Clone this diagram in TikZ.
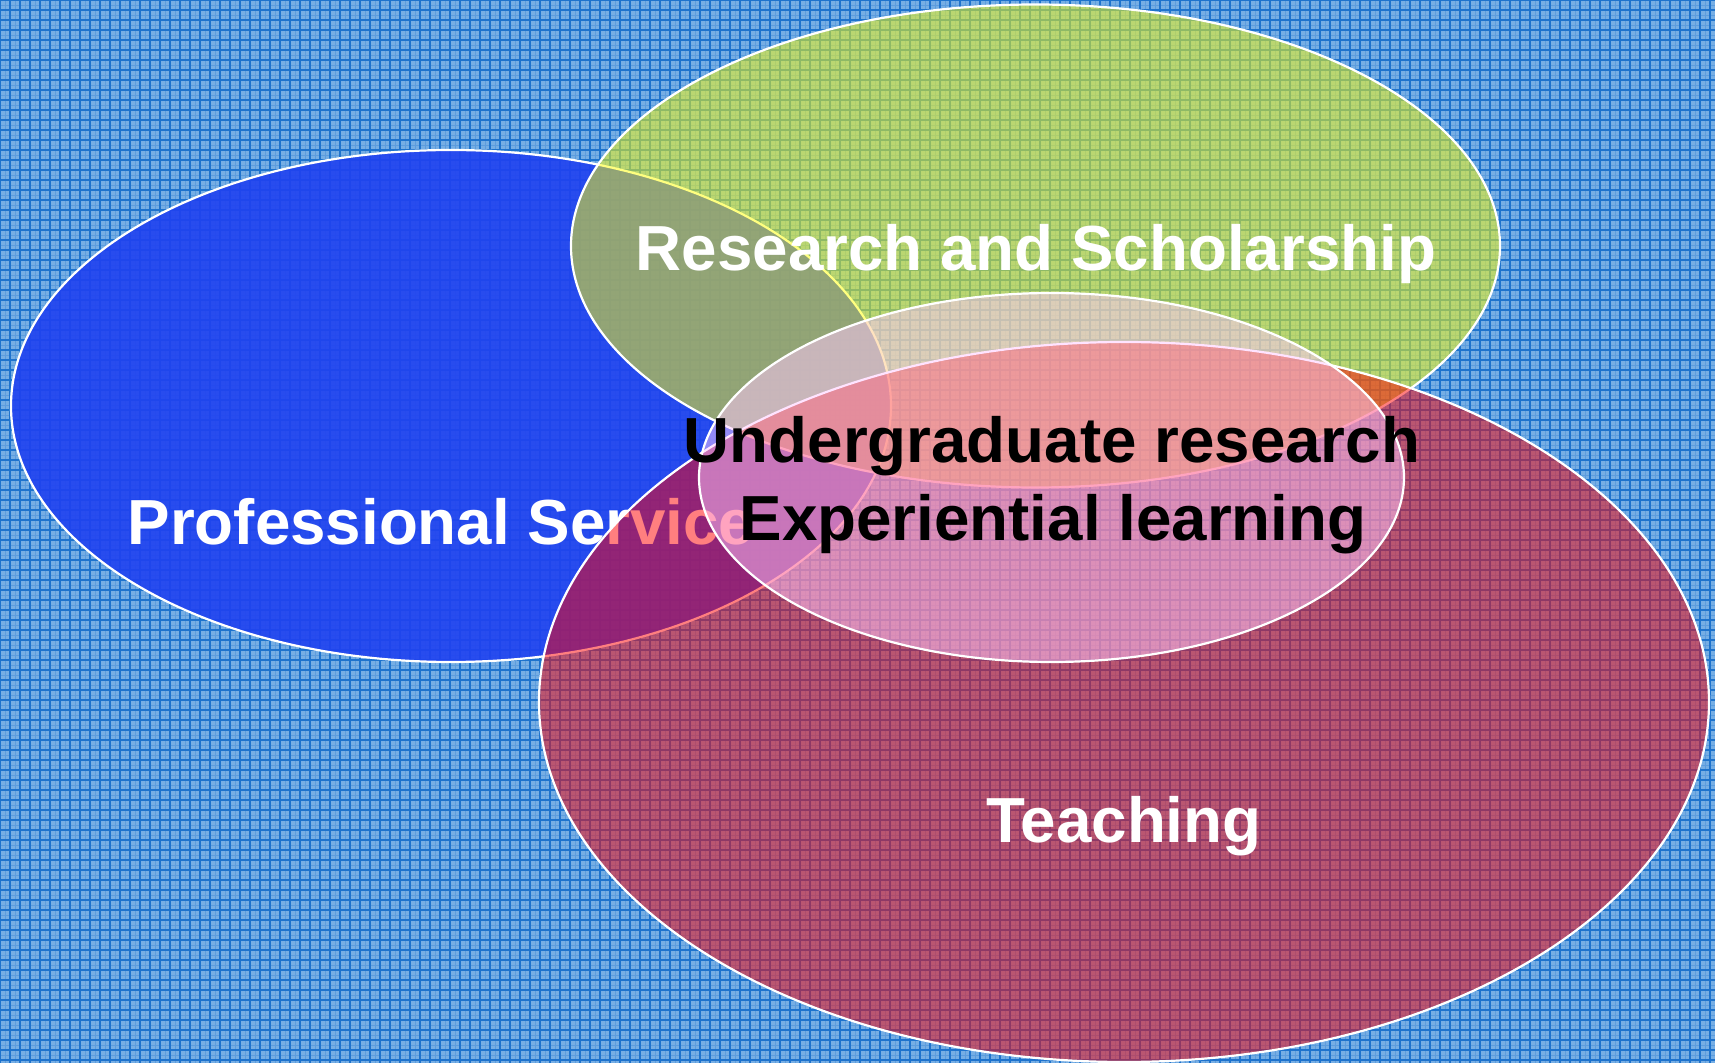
\documentclass[tikz,border=0pt]{standalone}
\usepackage{fontspec}
\setmainfont{Liberation Sans}
\definecolor{bgbase}{RGB}{118,174,228}
\definecolor{bgline}{RGB}{30,115,205}
\definecolor{psblue}{RGB}{32,66,240}
\definecolor{rsyellow}{RGB}{255,255,0}
\definecolor{tchred}{RGB}{255,0,0}
\definecolor{urpink}{RGB}{255,200,255}
\tikzset{
  setbox/.style={draw=white, line width=1.1pt},
  bigtext/.style={font=\fontsize{31.85pt}{38pt}\selectfont\bfseries, inner sep=0pt, anchor=base},
}
\begin{document}
\begin{tikzpicture}[x=0.5pt,y=-0.5pt]
\useasboundingbox (0,0) rectangle (1715,1063);
% background
\fill[bgbase] (0,0) rectangle (1715,1063);
\draw[bgline!30!bgbase, line width=0.25pt, step=2.5pt] (0,0) grid (1715,1063);
\draw[bgline, line width=0.55pt, step=5pt] (0,0) grid (1715,1063);
% Professional Service
\path[setbox, fill=psblue, fill opacity=0.9] (451,406) ellipse [x radius=220pt, y radius=128pt];
\node[bigtext, text=white] (ps) at (441,545) {Professional Service};
% Research and Scholarship
\path[setbox, fill=rsyellow, fill opacity=0.5] (1035.5,246) ellipse [x radius=232.25pt, y radius=120.75pt];
\node[bigtext, text=white] (rs) at (1036,271) {Research and Scholarship};
% Teaching
\path[setbox, fill=tchred, fill opacity=0.5] (1124,702) ellipse [x radius=292.5pt, y radius=180pt];
\node[bigtext, text=white] (tch) at (1124,842) {Teaching};
% Undergraduate research
\path[setbox, fill=urpink, fill opacity=0.5] (1051.5,477.5) ellipse [x radius=176.25pt, y radius=92.25pt];
\node[bigtext, text=black] (ur1) at (1052,463) {Undergraduate research};
\node[bigtext, text=black] (ur2) at (1053,541) {Experiential learning};
\end{tikzpicture}
\end{document}
